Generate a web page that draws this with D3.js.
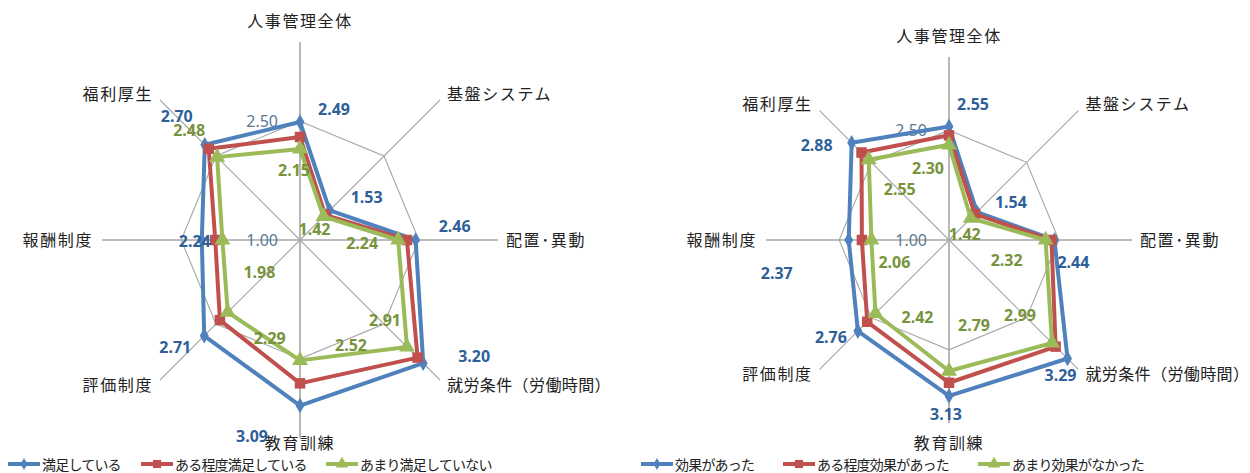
<!DOCTYPE html>
<html>
<head>
<meta charset="utf-8">
<script src="https://cdn.jsdelivr.net/npm/d3@7"></script>
<style>
  body { margin: 0; background: #fff; }
  svg { display: block; }
</style>
</head>
<body>
<svg id="chart" width="1250" height="473"></svg>
<script>
"use strict";
const categories = ["人事管理全体", "基盤システム", "配置･異動", "就労条件（労働時間）", "教育訓練", "評価制度", "報酬制度", "福利厚生"];
const tickValues = [1.0, 2.5];

const leftSeriesNames = ["満足している", "ある程度満足している", "あまり満足していない"];
const leftBlue = [2.49, 1.53, 2.46, 3.20, 3.09, 2.71, 2.24, 2.70];
const leftRed = [2.30, 1.45, 2.35, 3.10, 2.81, 2.43, 2.07, 2.63];
const leftGreen = [2.15, 1.42, 2.24, 2.91, 2.52, 2.29, 1.98, 2.48];

const rightSeriesNames = ["効果があった", "ある程度効果があった", "あまり効果がなかった"];
const rightBlue = [2.55, 1.54, 2.44, 3.29, 3.13, 2.76, 2.37, 2.88];
const rightRed = [2.43, 1.50, 2.40, 3.06, 2.95, 2.58, 2.19, 2.69];
const rightGreen = [2.30, 1.42, 2.32, 2.99, 2.79, 2.42, 2.06, 2.55];

// label nudges (px from the point), only for the labelled series
const leftBlueNudge = [[34, -13], [37, -13], [39, -14], [51, -7], [-48, 31], [-29, 12], [-7, 1], [-28, -28]];
const leftGreenNudge = [[-6, 21], [-9, 13], [-36, 3], [-22, -27], [51, -15], [42, 26], [37, 32], [-28, -27]];
const rightBlueNudge = [[24, -22], [34, -10], [19, 22], [-7, 17], [-3, 18], [-27, 6], [-72, 33], [-35, 3]];
const rightGreenNudge = [[-21, 24], [-6, 16], [-39, 20], [-32, -28], [25, -46], [42, 4], [23, 22], [31, 30]];

const colors = ["#4f81bd", "#c0504d", "#9bbb59"];
const labelColors = ["#2f5f99", null, "#77933c"];
const markerTypes = [d3.symbolDiamond, d3.symbolSquare, d3.symbolTriangle];
const markerSizes = [70, 110, 110];

const svg = d3.select("#chart");
svg.append("rect").attr("width", 1250).attr("height", 473).attr("fill", "#fff");

function drawRadar(cx, cy, R, series, nudges, names, legendX) {
    const g = svg.append("g");
    const r = d3.scaleLinear().domain([1, 3.5]).range([0, R]);
    const n = categories.length;
    const angle = (i) => i * 2 * Math.PI / n;
    const px = (i, v) => cx + r(v) * Math.sin(angle(i));
    const py = (i, v) => cy - r(v) * Math.cos(angle(i));

    // spokes
    g.selectAll("line.spoke").data(categories).join("line")
        .attr("class", "spoke")
        .attr("x1", cx).attr("y1", cy)
        .attr("x2", (d, i) => cx + R * Math.sin(angle(i)))
        .attr("y2", (d, i) => cy - R * Math.cos(angle(i)))
        .attr("stroke", "#a6a6a6")
        .attr("stroke-width", (d, i) => i % 2 == 0 ? 1.6 : 1.1);

    // ring at 2.50
    g.append("polygon")
        .attr("points", categories.map((d, i) => `${px(i, 2.5)},${py(i, 2.5)}`).join(" "))
        .attr("fill", "none").attr("stroke", "#a6a6a6").attr("stroke-width", 1.1);

    // tick labels
    g.selectAll("text.tick").data(tickValues).join("text")
        .attr("class", "tick")
        .attr("x", cx - 22).attr("y", (d) => cy - r(d))
        .attr("dy", "0.35em").attr("text-anchor", "end")
        .attr("font-family", "'Noto Sans', sans-serif").attr("font-size", 16)
        .attr("fill", "#5b7a93")
        .text((d) => d.toFixed(2));

    // category labels
    g.selectAll("text.cat").data(categories).join("text")
        .attr("class", "cat")
        .attr("x", (d, i) => {
            const ex = cx + R * Math.sin(angle(i));
            if (i == 0 || i == 4) return ex;
            if (i == 2) return ex + 8;
            if (i == 6) return ex - 9;
            return i < 4 ? ex + 7 : ex - 7;
        })
        .attr("y", (d, i) => {
            const ey = cy - R * Math.cos(angle(i));
            if (i == 0) return ey - 21;
            if (i == 4) return Math.min(ey + 20, 443);
            if (i == 2 || i == 6) return ey;
            return (i == 1 || i == 7) ? ey - 6 : ey + 5;
        })
        .attr("dy", "0.35em")
        .attr("text-anchor", (d, i) => (i == 0 || i == 4) ? "middle" : (i < 4 ? "start" : "end"))
        .attr("font-family", "'Noto Sans CJK JP', sans-serif").attr("font-size", 16)
        .attr("letter-spacing", (d, i) => i == 3 ? 0.4 : 1.6)
        .attr("fill", "#222")
        .text((d) => d);

    const line = d3.line().x((d, i) => px(i, d)).y((d, i) => py(i, d)).curve(d3.curveLinearClosed);

    series.forEach((vals, s) => {
        const sg = g.append("g");
        sg.append("path").attr("d", line(vals))
            .attr("fill", "none").attr("stroke", colors[s])
            .attr("stroke-width", 4).attr("stroke-linejoin", "round");
        sg.selectAll("path.mk").data(vals).join("path")
            .attr("class", "mk")
            .attr("d", d3.symbol(markerTypes[s], markerSizes[s]))
            .attr("transform", (d, i) => `translate(${px(i, d)},${py(i, d)})`)
            .attr("fill", colors[s]);
    });

    // data labels
    series.forEach((vals, s) => {
        const nudge = nudges[s];
        if (!nudge) return;
        g.selectAll(null).data(vals).join("text")
            .attr("x", (d, i) => px(i, d) + nudge[i][0])
            .attr("y", (d, i) => py(i, d) + nudge[i][1])
            .attr("dy", "0.35em").attr("text-anchor", "middle")
            .attr("font-family", "'Noto Sans', sans-serif").attr("font-size", 16)
            .attr("font-weight", "bold")
            .attr("fill", labelColors[s])
            .text((d) => d.toFixed(2));
    });

    // legend
    const lg = g.append("g");
    names.forEach((name, s) => {
        const x0 = legendX[s];
        const ly = 464;
        lg.append("line").attr("x1", x0).attr("x2", x0 + 32).attr("y1", ly).attr("y2", ly)
            .attr("stroke", colors[s]).attr("stroke-width", 4);
        lg.append("path").attr("d", d3.symbol(markerTypes[s], markerSizes[s] * 0.6))
            .attr("transform", `translate(${x0 + 16},${ly})`).attr("fill", colors[s]);
        lg.append("text").attr("x", x0 + 34).attr("y", ly + 1).attr("dy", "0.35em")
            .attr("font-family", "'Noto Sans CJK JP', sans-serif").attr("font-size", 14)
            .attr("letter-spacing", -0.8)
            .attr("fill", "#222").text(name);
    });
}

drawRadar(300, 240, 198, [leftBlue, leftRed, leftGreen], [leftBlueNudge, null, leftGreenNudge], leftSeriesNames, [8, 141, 326]);
drawRadar(949, 240, 183, [rightBlue, rightRed, rightGreen], [rightBlueNudge, null, rightGreenNudge], rightSeriesNames, [641, 783, 978]);
</script>
</body>
</html>
